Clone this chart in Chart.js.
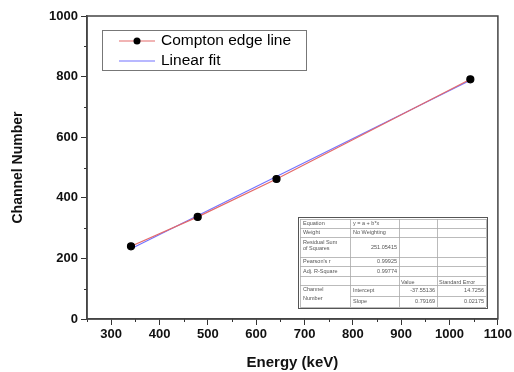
<!DOCTYPE html>
<html>
<head>
<meta charset="utf-8">
<script src="https://cdn.jsdelivr.net/npm/chart.js@4/dist/chart.umd.min.js"></script>
<style>
  html, body { margin: 0; padding: 0; background: #fff; }
  #wrap { width: 514px; height: 372px; }
</style>
</head>
<body>
<div id="wrap"><canvas id="c" width="514" height="372"></canvas></div>
<script>
// Compton edge measurements
const energy = [341, 479, 642, 1043];
const channel = [240, 337, 462, 791];

// Linear fit line (endpoints)
const fitEnergy = [341, 1043];
const fitChannel = [232, 788];

// Axis ticks
const xMajor = [300, 400, 500, 600, 700, 800, 900, 1000, 1100];
const yMajor = [0, 200, 400, 600, 800, 1000];

// Fit report table
const fitTable = [
  ['Equation', 'y = a + b*x', '', ''],
  ['Weight', 'No Weighting', '', ''],
  ['Residual Sum\nof Squares', '251.05415', '', ''],
  ["Pearson's r", '0.99925', '', ''],
  ['Adj. R-Square', '0.99774', '', ''],
  ['', '', 'Value', 'Standard Error'],
  ['Channel', 'Intercept', '-37.55136', '14.7256'],
  ['Number', 'Slope', '0.79169', '0.02175']
];

const FONT = '"Liberation Sans", Arial, sans-serif';

const extras = {
  id: 'extras',
  afterDraw(chart) {
    const ctx = chart.ctx;
    const a = chart.chartArea;
    const xs = chart.scales.x, ys = chart.scales.y;
    ctx.save();

    // minor ticks
    ctx.strokeStyle = '#333';
    ctx.lineWidth = 1;
    for (let v = 250; v <= 1100; v += 50) {
      if (xMajor.includes(v)) continue;
      const px = Math.round(xs.getPixelForValue(v)) + 0.5;
      ctx.beginPath(); ctx.moveTo(px, a.bottom); ctx.lineTo(px, a.bottom + 3); ctx.stroke();
    }
    for (let v = 100; v < 1000; v += 200) {
      const py = Math.round(ys.getPixelForValue(v)) + 0.5;
      ctx.beginPath(); ctx.moveTo(a.left, py); ctx.lineTo(a.left - 3, py); ctx.stroke();
    }

    // frame
    ctx.strokeStyle = '#444';
    ctx.lineWidth = 1.5;
    ctx.strokeRect(a.left, a.top, a.right - a.left, a.bottom - a.top);

    // legend
    const lx = a.left + 15, ly = a.top + 14;
    ctx.strokeStyle = '#777';
    ctx.lineWidth = 1;
    ctx.strokeRect(lx + 0.5, ly + 0.5, 204, 40);
    ctx.lineWidth = 1.2;
    ctx.strokeStyle = '#e46a6a';
    ctx.beginPath(); ctx.moveTo(lx + 17, ly + 11); ctx.lineTo(lx + 53, ly + 11); ctx.stroke();
    ctx.fillStyle = '#000';
    ctx.beginPath(); ctx.arc(lx + 35, ly + 11, 3.5, 0, Math.PI * 2); ctx.fill();
    ctx.strokeStyle = '#7272ff';
    ctx.beginPath(); ctx.moveTo(lx + 17, ly + 31); ctx.lineTo(lx + 53, ly + 31); ctx.stroke();
    ctx.font = '15.5px ' + FONT;
    ctx.textBaseline = 'middle';
    ctx.textAlign = 'left';
    ctx.fillText('Compton edge line', lx + 59, ly + 11);
    ctx.fillText('Linear fit', lx + 59, ly + 31);

    // fit table
    const tx = 300, ty = 219;
    const colX = [tx, 350, 399, 437, 486];
    const rowY = [219, 228, 237, 257, 266, 276, 285, 296, 307];
    ctx.fillStyle = '#fff';
    ctx.fillRect(tx, ty, colX[4] - tx, rowY[8] - ty);
    ctx.strokeStyle = '#aaa';
    ctx.lineWidth = 0.8;
    for (let i = 0; i < rowY.length; i++) {
      const yy = rowY[i] + 0.5;
      const x0 = (i === 7) ? colX[1] : colX[0];
      ctx.beginPath(); ctx.moveTo(x0, yy); ctx.lineTo(colX[4], yy); ctx.stroke();
    }
    for (let j = 0; j < colX.length; j++) {
      const xx = colX[j] + 0.5;
      ctx.beginPath(); ctx.moveTo(xx, rowY[0]); ctx.lineTo(xx, rowY[8]); ctx.stroke();
    }
    ctx.strokeStyle = '#555';
    ctx.lineWidth = 1;
    ctx.strokeRect(tx - 1.5, ty - 1.5, colX[4] - tx + 3, rowY[8] - ty + 3);

    ctx.fillStyle = '#555';
    ctx.font = '5.5px ' + FONT;
    fitTable.forEach((row, i) => {
      const top = rowY[i], bot = rowY[i + 1];
      row.forEach((txt, j) => {
        if (!txt) return;
        const lines = txt.split('\n');
        const left = colX[j], right = colX[j + 1];
        const isNum = /^-?[0-9.]+$/.test(txt);
        const isHead = (i === 5);
        lines.forEach((ln, k) => {
          let yy = lines.length > 1 ? top + 5 + k * 6 : (top + bot) / 2;
          if (i >= 6 && j === 0) yy = i === 6 ? top + 4 : top + 2;
          if (isNum) { ctx.textAlign = 'right'; ctx.fillText(ln, right - 2, yy); }
          else if (isHead) { ctx.textAlign = 'left'; ctx.fillText(ln, left + 2, yy + 2); }
          else { ctx.textAlign = 'left'; ctx.fillText(ln, left + 3, yy); }
        });
      });
    });
    ctx.restore();
  }
};

new Chart(document.getElementById('c'), {
  type: 'scatter',
  data: {
    datasets: [
      {
        label: 'Compton edge line',
        data: energy.map((e, i) => ({ x: e, y: channel[i] })),
        showLine: true,
        borderColor: '#e46a6a',
        borderWidth: 1.2,
        pointRadius: 3.5,
        pointBackgroundColor: '#000',
        pointBorderColor: '#000',
        order: 1
      },
      {
        label: 'Linear fit',
        data: fitEnergy.map((e, i) => ({ x: e, y: fitChannel[i] })),
        showLine: true,
        borderColor: '#7272ff',
        borderWidth: 1.2,
        pointRadius: 0,
        order: 2
      }
    ]
  },
  options: {
    responsive: false,
    animation: false,
    layout: { padding: { left: 10, right: 15, top: 16, bottom: 0 } },
    plugins: { legend: { display: false }, tooltip: { enabled: false } },
    scales: {
      x: {
        type: 'linear',
        min: 250, max: 1100,
        afterFit: s => { s.height = 53; },
        afterBuildTicks: s => { s.ticks = xMajor.map(v => ({ value: v })); },
        ticks: {
          font: { family: FONT, size: 13, weight: 'bold' },
          color: '#111',
          padding: 2,
          maxRotation: 0,
          autoSkip: false,
          callback: v => String(v)
        },
        grid: { drawOnChartArea: false, tickLength: 6, color: '#333' },
        border: { color: '#444', width: 1.5 },
        title: {
          display: true,
          text: 'Energy (keV)',
          font: { family: FONT, size: 15, weight: 'bold' },
          color: '#111',
          padding: { top: 6, bottom: 0 }
        }
      },
      y: {
        min: 0, max: 1000,
        afterFit: s => { s.width = 77; },
        afterBuildTicks: s => { s.ticks = yMajor.map(v => ({ value: v })); },
        ticks: {
          font: { family: FONT, size: 13, weight: 'bold' },
          color: '#111',
          padding: 3,
          callback: v => String(v)
        },
        grid: { drawOnChartArea: false, tickLength: 6, color: '#333' },
        border: { color: '#444', width: 1.5 },
        title: {
          display: true,
          text: 'Channel Number',
          font: { family: FONT, size: 14, weight: 'bold' },
          color: '#111',
          padding: { top: 0, bottom: 14 }
        }
      }
    }
  },
  plugins: [extras]
});
</script>
</body>
</html>
